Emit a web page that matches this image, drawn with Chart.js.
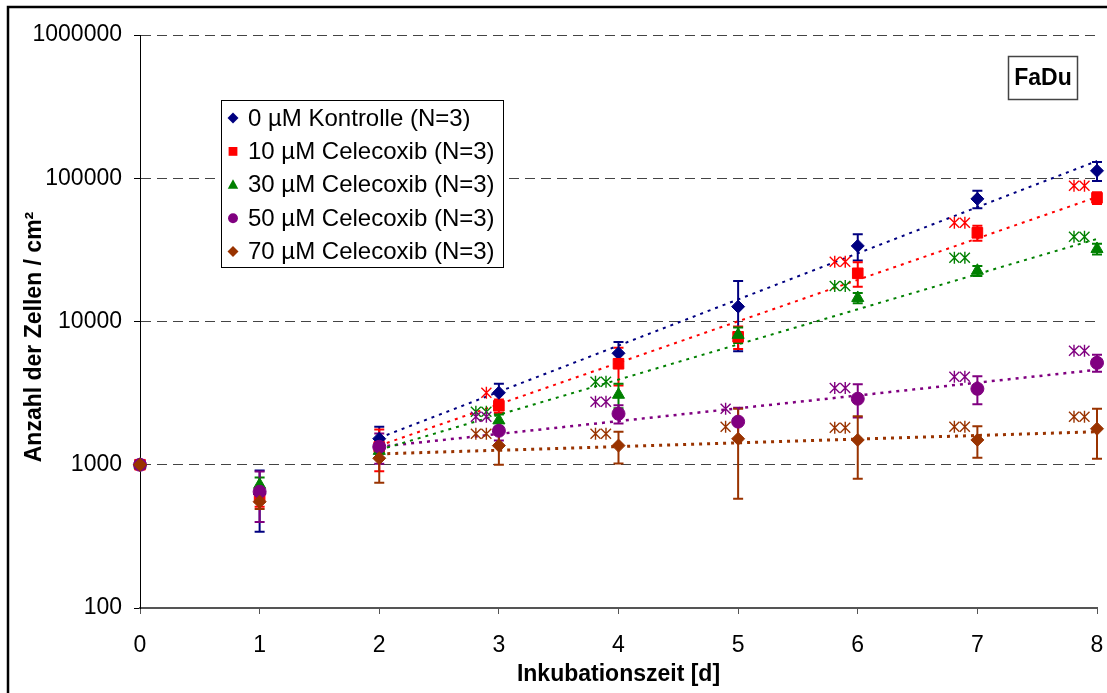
<!DOCTYPE html>
<html>
<head>
<meta charset="utf-8">
<script src="https://cdn.jsdelivr.net/npm/chart.js@4/dist/chart.umd.min.js"></script>
<style>
  body { margin: 0; background: #fff; }
  #wrap { width: 1107px; height: 693px; }
</style>
</head>
<body>
<div id="wrap"><canvas id="growthChart" width="1107" height="693"></canvas></div>
<script>
// Tag der Inkubation
const days = [0, 1, 2, 3, 4, 5, 6, 7, 8];
const yTicks = [100, 1000, 10000, 100000, 1000000];

// Mittelwerte und SD (Zellen / cm²)
const ctrl0 = [1000, 625, 1520, 3180, 6000, 12700, 33700, 71800, 112700];
const ctrl0Sd = [0, 285, 320, 500, 1200, 6500, 7000, 10000, 17000];
const cel10 = [1000, 590, 1330, 2580, 5070, 7820, 21700, 41600, 73000];
const cel10Sd = [0, 80, 430, 280, 1500, 1400, 4200, 5000, 7000];
const cel30 = [1000, 725, 1250, 2040, 3080, 8070, 14600, 22600, 32100];
const cel30Sd = [0, 90, 150, 200, 600, 1000, 1200, 1800, 2800];
const cel50 = [1000, 648, 1335, 1727, 2270, 2000, 2890, 3390, 5150];
const cel50Sd = [0, 250, 320, 250, 330, 500, 750, 750, 700];
const cel70 = [1000, 552, 1110, 1360, 1360, 1518, 1490, 1490, 1783];
const cel70Sd = [0, 60, 360, 360, 340, 940, 690, 370, 680];

// exponentielle Trendlinien (Tag 2 bis 8)
const trendDays = [2, 8];
const ctrl0Trend = [1540, 132000];
const cel10Trend = [1360, 74000];
const cel30Trend = [1270, 37700];
const cel50Trend = [1335, 4600];
const cel70Trend = [1190, 1700];

// Signifikanz-Sterne und ihre Höhe
const cel10Sig = ['', '', '', '*', '', '', '**', '**', '**'];
const cel10SigY = [null, null, null, 3180, null, null, 26100, 48900, 88500];
const cel30Sig = ['', '', '', '**', '**', '', '**', '**', '**'];
const cel30SigY = [null, null, null, 2340, 3800, null, 17700, 27900, 39000];
const cel50Sig = ['', '', '', '**', '**', '*', '**', '**', '**'];
const cel50SigY = [null, null, null, 2160, 2750, 2460, 3440, 4110, 6250];
const cel70Sig = ['', '', '', '**', '**', '*', '**', '**', '**'];
const cel70SigY = [null, null, null, 1645, 1645, 1840, 1810, 1840, 2160];

const FONT = '"Liberation Sans", Arial, sans-serif';

function pts(xs, ys) {
  return xs.map((d, i) => ({ x: d, y: ys[i] }));
}

function series(label, vals, sd, color, style, radius, sig, sigY, order) {
  return {
    label: label,
    data: pts(days, vals),
    errors: sd,
    sig: sig,
    sigY: sigY,
    showLine: false,
    clip: false,
    pointStyle: style,
    pointRadius: radius,
    pointBackgroundColor: color,
    pointBorderColor: color,
    pointBorderWidth: 1,
    borderColor: color,
    backgroundColor: color,
    order: order
  };
}

function trend(vals, color, width) {
  return {
    type: 'line',
    data: pts(trendDays, vals),
    showLine: true,
    borderColor: color,
    borderWidth: width,
    borderDash: [3, 5],
    pointRadius: 0,
    fill: false,
    order: 10
  };
}

function drawMarker(ctx, style, x, y, r) {
  ctx.beginPath();
  if (style === 'rectRot') {
    ctx.moveTo(x, y - r); ctx.lineTo(x + r, y); ctx.lineTo(x, y + r); ctx.lineTo(x - r, y);
  } else if (style === 'rect') {
    const s = r * 0.8;
    ctx.rect(x - s, y - s, 2 * s, 2 * s);
  } else if (style === 'triangle') {
    ctx.moveTo(x, y - r); ctx.lineTo(x + r * 0.95, y + r * 0.7); ctx.lineTo(x - r * 0.95, y + r * 0.7);
  } else {
    ctx.arc(x, y, r * 0.9, 0, Math.PI * 2);
  }
  ctx.closePath();
  ctx.fill();
}

function drawStar(ctx, cx, cy) {
  ctx.beginPath();
  ctx.moveTo(cx, cy - 6); ctx.lineTo(cx, cy + 6);
  ctx.moveTo(cx - 5, cy - 5); ctx.lineTo(cx + 5, cy + 5);
  ctx.moveTo(cx - 5, cy + 5); ctx.lineTo(cx + 5, cy - 5);
  ctx.stroke();
}

const errorBars = {
  id: 'errorBars',
  beforeDatasetsDraw(chart) {
    const { ctx, scales: { x, y } } = chart;
    ctx.save();
    chart.data.datasets.forEach(ds => {
      if (!ds.errors) return;
      ctx.strokeStyle = ds.borderColor;
      ctx.lineWidth = 2;
      ds.data.forEach((p, j) => {
        const sd = ds.errors[j];
        if (!sd) return;
        const px = x.getPixelForValue(p.x);
        const top = y.getPixelForValue(p.y + sd);
        const bot = y.getPixelForValue(Math.max(p.y - sd, 1));
        ctx.beginPath();
        ctx.moveTo(px, top); ctx.lineTo(px, bot);
        ctx.moveTo(px - 5, top); ctx.lineTo(px + 5, top);
        ctx.moveTo(px - 5, bot); ctx.lineTo(px + 5, bot);
        ctx.stroke();
      });
    });
    ctx.restore();
  },
  afterDatasetsDraw(chart) {
    const { ctx, scales: { x, y } } = chart;
    ctx.save();
    ctx.lineWidth = 1.4;
    chart.data.datasets.forEach(ds => {
      if (!ds.sig) return;
      ctx.strokeStyle = ds.borderColor;
      ds.sig.forEach((s, j) => {
        if (!s) return;
        const px = x.getPixelForValue(days[j]);
        const py = y.getPixelForValue(ds.sigY[j]);
        for (let k = 0; k < s.length; k++) {
          drawStar(ctx, px - 12.5 - k * 10.5, py);
        }
      });
    });
    ctx.restore();
  },
  afterDraw(chart) {
    const ctx = chart.ctx;
    ctx.save();
    // Rahmen
    ctx.strokeStyle = '#000';
    ctx.lineWidth = 2.5;
    ctx.beginPath();
    ctx.moveTo(8, 700); ctx.lineTo(8, 7); ctx.lineTo(1110, 7);
    ctx.stroke();

    // y-Achsentitel
    ctx.fillStyle = '#000';
    ctx.font = 'bold 23px ' + FONT;
    ctx.textAlign = 'center';
    ctx.textBaseline = 'middle';
    ctx.translate(35, 337);
    ctx.rotate(-Math.PI / 2);
    ctx.fillText('Anzahl der Zellen / cm²', 0, 0);
    ctx.setTransform(1, 0, 0, 1, 0, 0);

    // Legende
    ctx.textAlign = 'left';
    ctx.fillStyle = '#fff';
    ctx.fillRect(221, 100, 282, 167);
    ctx.strokeStyle = '#000';
    ctx.lineWidth = 1;
    ctx.strokeRect(221.5, 100.5, 282, 167);
    ctx.font = '24px ' + FONT;
    chart.data.datasets.filter(ds => ds.errors).forEach((ds, i) => {
      const ly = 118 + i * 33.4;
      ctx.fillStyle = ds.borderColor;
      drawMarker(ctx, ds.pointStyle, 233, ly, 5.5);
      ctx.fillStyle = '#000';
      ctx.fillText(ds.label, 248, ly + 1);
    });

    // Zelllinie
    ctx.strokeStyle = '#444';
    ctx.lineWidth = 1.5;
    ctx.strokeRect(1008.5, 56.5, 69, 43);
    ctx.fillStyle = '#000';
    ctx.font = 'bold 23px ' + FONT;
    ctx.textAlign = 'center';
    ctx.fillText('FaDu', 1043, 79);
    ctx.restore();
  }
};

const ctx = document.getElementById('growthChart').getContext('2d');
const chart = new Chart(ctx, {
  type: 'scatter',
  data: {
    datasets: [
      series('0 µM Kontrolle (N=3)', ctrl0, ctrl0Sd, '#000080', 'rectRot', 6.5, null, null, 5),
      series('10 µM Celecoxib (N=3)', cel10, cel10Sd, '#ff0000', 'rect', 7.5, cel10Sig, cel10SigY, 4),
      series('30 µM Celecoxib (N=3)', cel30, cel30Sd, '#008000', 'triangle', 7, cel30Sig, cel30SigY, 3),
      series('50 µM Celecoxib (N=3)', cel50, cel50Sd, '#800080', 'circle', 6.5, cel50Sig, cel50SigY, 2),
      series('70 µM Celecoxib (N=3)', cel70, cel70Sd, '#993300', 'rectRot', 6.5, cel70Sig, cel70SigY, 1),
      trend(ctrl0Trend, '#000080', 2),
      trend(cel10Trend, '#ff0000', 2),
      trend(cel30Trend, '#008000', 2),
      trend(cel50Trend, '#800080', 2.5),
      trend(cel70Trend, '#993300', 3)
    ]
  },
  options: {
    responsive: false,
    animation: false,
    layout: { padding: { top: 35, right: 10, left: 0, bottom: 0 } },
    plugins: {
      legend: { display: false },
      tooltip: { enabled: false }
    },
    scales: {
      x: {
        type: 'linear',
        min: 0,
        max: 8,
        ticks: { stepSize: 1, color: '#000', padding: 18, font: { family: FONT, size: 23 } },
        grid: { drawOnChartArea: false, drawTicks: true, tickLength: 6, color: '#555', tickBorderDash: [] },
        border: { color: '#555', width: 2 },
        title: {
          display: true,
          text: 'Inkubationszeit [d]',
          color: '#000',
          font: { family: FONT, size: 23, weight: 'bold' },
          padding: { top: 0, bottom: 5 }
        },
        afterFit(scale) {
          scale.height = 85;
          scale.paddingRight = 0;
        }
      },
      y: {
        type: 'logarithmic',
        min: 100,
        max: 1000000,
        afterBuildTicks(scale) { scale.ticks = yTicks.map(v => ({ value: v })); },
        ticks: {
          color: '#000',
          padding: 12,
          font: { family: FONT, size: 23 },
          callback: v => String(v)
        },
        grid: {
          color: c => (c.tick && c.tick.value === 100 ? 'rgba(0,0,0,0)' : '#444'),
          tickColor: '#000',
          tickBorderDash: [],
          tickLength: 6,
          lineWidth: 1
        },
        border: { color: '#000', width: 1, dash: [10, 6] },
        title: { display: false },
        afterFit(scale) { scale.width = 140; }
      }
    }
  },
  plugins: [errorBars]
});
</script>
</body>
</html>
